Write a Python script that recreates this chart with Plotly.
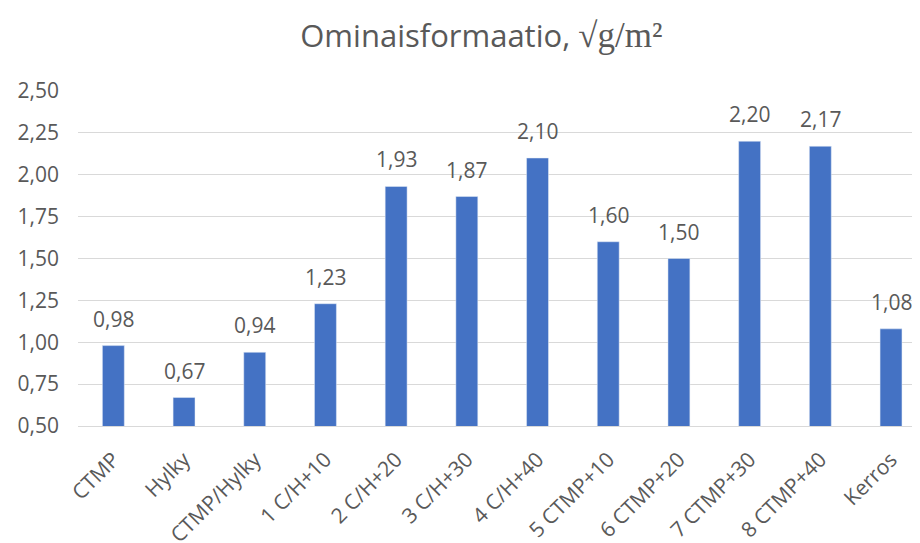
import plotly.graph_objects as go

categories = ["CTMP", "Hylky", "CTMP/Hylky", "1 C/H+10", "2 C/H+20", "3 C/H+30",
              "4 C/H+40", "5 CTMP+10", "6 CTMP+20", "7 CTMP+30", "8 CTMP+40", "Kerros"]
values = [0.98, 0.67, 0.94, 1.23, 1.93, 1.87, 2.10, 1.60, 1.50, 2.20, 2.17, 1.08]
tick_vals = [0.50, 0.75, 1.00, 1.25, 1.50, 1.75, 2.00, 2.25, 2.50]
tick_text = [f"{v:.2f}".replace(".", ",") for v in tick_vals]
labels = [f"{v:.2f}".replace(".", ",") for v in values]

gray = "#595959"
font = "Open Sans, Noto Sans, sans-serif"

fig = go.Figure(go.Bar(x=categories, y=values, marker_color="#4472C4"))
for c, v, t in zip(categories, values, labels):
    fig.add_annotation(x=c, y=v, text=t, showarrow=False, yanchor="bottom",
                       yshift=11, font=dict(size=21, color=gray, family=font))

fig.update_layout(
    width=912, height=535, plot_bgcolor="white", paper_bgcolor="white",
    margin=dict(l=70, r=0, t=83, b=117),
    bargap=0.69,
    title=dict(
        text='Ominaisformaatio, <span style="font-family:Liberation Serif, DejaVu Serif, serif;font-size:35px">√g/m²</span>',
        x=0.519, xanchor="center", y=0.947, yanchor="middle",
        font=dict(size=31, color=gray, family=font),
    ),
    showlegend=False,
)
fig.update_yaxes(range=[0.5, 2.5], tickvals=tick_vals, ticktext=tick_text,
                 showgrid=True, gridcolor="#d9d9d9", gridwidth=1,
                 zeroline=False, showline=False, ticks="",
                 tickfont=dict(size=21, color=gray, family=font), ticklabelstandoff=18,
                 automargin=False)
fig.update_xaxes(tickangle=-45, showline=True, linecolor="#d9d9d9", linewidth=1,
                 range=[-0.5, 11.41], automargin=False, ticklabelstandoff=12,
                 tickfont=dict(size=21, color=gray, family=font), ticks="")
fig.write_html("out.html")
